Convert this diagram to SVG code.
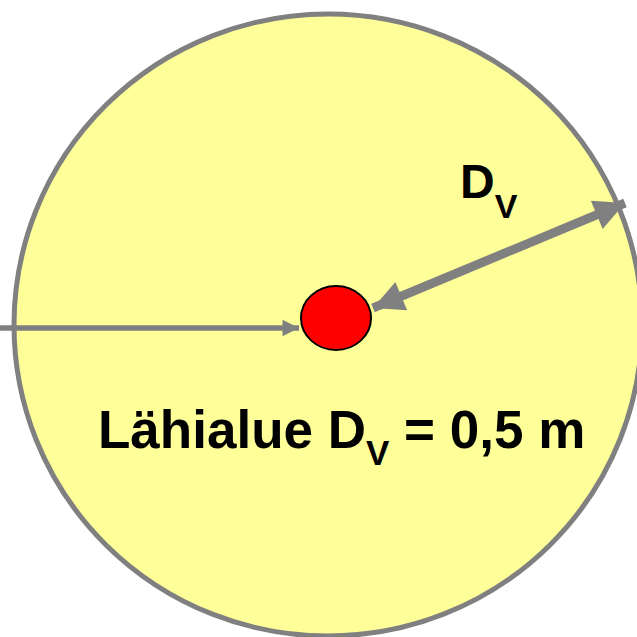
<svg xmlns="http://www.w3.org/2000/svg" width="637" height="637" viewBox="0 0 637 637">
<style>
.lbl{font-family:"Liberation Sans",Arial,sans-serif;font-weight:bold;fill:#000}
.conn{stroke:#808080;fill:none}
</style>
<defs>
<marker id="ah" viewBox="0 0 10 10" refX="10" refY="5" markerWidth="4" markerHeight="3.4" orient="auto-start-reverse" markerUnits="strokeWidth">
<path d="M0,0 L10,5 L0,10 Z" fill="#808080"/>
</marker>
<marker id="ahs" viewBox="0 0 10 10" refX="10" refY="5" markerWidth="3.4" markerHeight="3" orient="auto" markerUnits="strokeWidth">
<path d="M0,0 L10,5 L0,10 Z" fill="#808080"/>
</marker>
</defs>
<g id="zone">
<ellipse cx="328" cy="325" rx="314" ry="311" fill="#FFFF99" stroke="#808080" stroke-width="5"/>
</g>
<g id="connectors">
<line class="conn" x1="0" y1="328" x2="299" y2="328" stroke-width="5.5" marker-end="url(#ahs)"/>
<line class="conn" x1="373" y1="308" x2="625" y2="203" stroke-width="9" marker-start="url(#ah)" marker-end="url(#ah)"/>
</g>
<g id="source">
<ellipse cx="336" cy="318" rx="35" ry="32" fill="#FF0000" stroke="#000" stroke-width="2"/>
</g>
<g id="label-dv">
<text class="lbl" x="460" y="198" font-size="48">D<tspan font-size="34" dy="20">V</tspan></text>
</g>
<g id="label-main">
<text class="lbl" x="98" y="448" font-size="53">Lähialue D<tspan font-size="35" dy="17">V</tspan><tspan dy="-17"> = 0,5 m</tspan></text>
</g>
</svg>
